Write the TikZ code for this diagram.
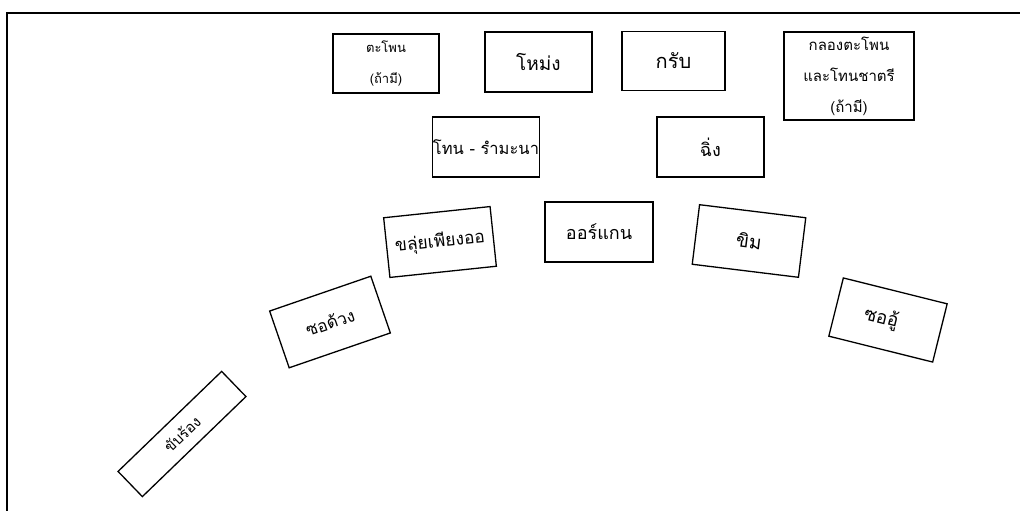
\documentclass[tikz,border=0pt]{standalone}
\usepackage{fontspec}
\newfontfamily\thai[Script=Thai]{Loma}
\begin{document}
\begin{tikzpicture}[x=1pt,y=-1pt]
\tikzset{
  box/.style={draw, line width=1.3pt, minimum width=107pt, minimum height=60pt, inner sep=0pt, align=center, font=\thai\fontsize{19}{22}\selectfont},
  fs/.style={font=\thai\fontsize{#1}{24}\selectfont},
  small/.style={font=\thai\fontsize{#1}{31}\selectfont}
}
\useasboundingbox (0,0) rectangle (1020,511);
\draw[line width=1.5pt] (7,511) -- (7,13) -- (1020,13);
\node[box, small=13, minimum width=106pt, minimum height=59pt] (tapon) at (386,63.5) {ตะโพน\\(ถ้ามี)};
\node[box, fs=19] (mong) at (538.5,62) {โหม่ง};
\node[box, fs=20, minimum width=103pt, minimum height=59pt] (krap) at (673.5,61) {กรับ};
\node[box, small=15, minimum width=130pt, minimum height=88pt] (klong) at (849,76) {กลองตะโพน\\และโทนชาตรี\\(ถ้ามี)};
\node[box, fs=16.5] (thon) at (486,147) {โทน - รำมะนา};
\node[box, fs=18] (ching) at (710.5,147) {ฉิ่ง};
\node[box, fs=18, minimum width=108pt] (organ) at (599,232) {ออร์แกน};
\node[box, fs=17.5, rotate=6] (khlui) at (440,242) {ขลุ่ยเพียงออ};
\node[box, fs=19, rotate=-7] (khim) at (749,241) {ขิม};
\node[box, fs=17, rotate=19] (sodu) at (330,322) {ซอด้วง};
\node[box, fs=15, rotate=44, minimum width=144pt, minimum height=35pt] (khap) at (182,434) {ขับร้อง};
\node[box, fs=18.5, rotate=-14] (sou) at (888,320) {ซออู้\hspace*{14pt}};
\end{tikzpicture}
\end{document}
